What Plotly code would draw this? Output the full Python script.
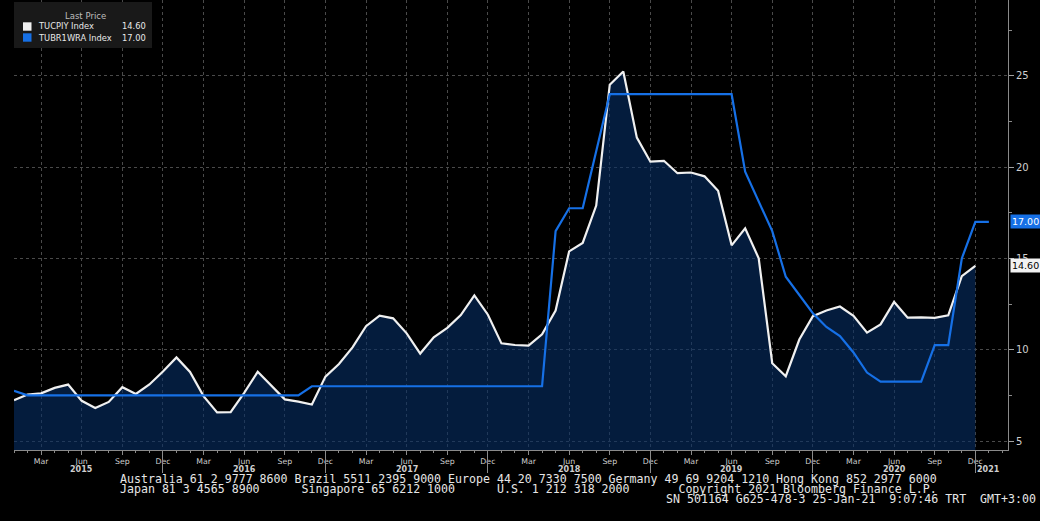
import plotly.graph_objects as go

# ---------------- data ----------------
start_year = 2015
month_names = ["Jan", "Feb", "Mar", "Apr", "May", "Jun",
               "Jul", "Aug", "Sep", "Oct", "Nov", "Dec"]
quarter_months = ["Mar", "Jun", "Sep", "Dec"]
year_labels = ["2015", "2016", "2017", "2018", "2019", "2020", "2021"]
series_names = ["TUCPIY Index", "TUBR1WRA Index"]
legend_title = "Last Price"

# Turkey CPI YoY (Jan 2015 .. Dec 2020)
cpi_yoy = [
    7.24, 7.55, 7.61, 7.91, 8.09, 7.20, 6.81, 7.14, 7.95, 7.58, 8.10, 8.81,
    9.58, 8.78, 7.46, 6.57, 6.58, 7.64, 8.79, 8.05, 7.28, 7.16, 7.00, 8.53,
    9.22, 10.13, 11.29, 11.87, 11.72, 10.90, 9.79, 10.68, 11.20, 11.90, 12.98, 11.92,
    10.35, 10.26, 10.23, 10.85, 12.15, 15.39, 15.85, 17.90, 24.52, 25.24, 21.62, 20.30,
    20.35, 19.67, 19.71, 19.50, 18.71, 15.72, 16.65, 15.01, 9.26, 8.55, 10.56, 11.84,
    12.15, 12.37, 11.86, 10.94, 11.39, 12.62, 11.76, 11.77, 11.75, 11.89, 14.03, 14.60,
]

# Turkey one-week repo rate (Jan 2015 .. Jan 2021)
repo_rate = [
    7.75, 7.5, 7.5, 7.5, 7.5, 7.5, 7.5, 7.5, 7.5, 7.5, 7.5, 7.5,
    7.5, 7.5, 7.5, 7.5, 7.5, 7.5, 7.5, 7.5, 7.5, 7.5, 8.0, 8.0,
    8.0, 8.0, 8.0, 8.0, 8.0, 8.0, 8.0, 8.0, 8.0, 8.0, 8.0, 8.0,
    8.0, 8.0, 8.0, 8.0, 16.5, 17.75, 17.75, 20.9, 24.0, 24.0, 24.0, 24.0,
    24.0, 24.0, 24.0, 24.0, 24.0, 24.0, 19.75, 18.1, 16.5, 14.0, 13.0, 12.0,
    11.25, 10.75, 9.85, 8.75, 8.25, 8.25, 8.25, 8.25, 10.25, 10.25, 15.0, 17.0,
    17.0,
]

y_ticks = [5, 10, 15, 20, 25]

footer_line1 = ("Australia 61 2 9777 8600 Brazil 5511 2395 9000 Europe 44 20 7330 7500 "
                "Germany 49 69 9204 1210 Hong Kong 852 2977 6000")
footer_line2 = ("Japan 81 3 4565 8900      Singapore 65 6212 1000      "
                "U.S. 1 212 318 2000       Copyright 2021 Bloomberg Finance L.P.")
footer_line3 = "SN 501164 G625-478-3 25-Jan-21  9:07:46 TRT  GMT+3:00"

# ---------------- styling ----------------
W, H = 1040, 521
ML, MR, MT, MB = 14, 32, 0, 71
PW, PH = W - ML - MR, H - MT - MB

BG = "#000000"
WHITE_LINE = "#f0f0f0"
BLUE = "#1670e6"
FILL = "rgba(6,46,102,0.6)"
GRID = "#4a4a4a"
AXIS = "#8a8a8a"
TXT = "#cfcfcf"
FONT = "DejaVu Sans"
MONO = "DejaVu Sans Mono"


def px_x(p):
    return (p - ML) / PW


def px_y(p):
    return (H - MB - p) / PH


periods = [f"{month_names[i % 12]} {start_year + i // 12}" for i in range(len(repo_rate))]
x_cpi = list(range(len(cpi_yoy)))
x_repo = list(range(len(repo_rate)))

x_range = [0, PW / 13.54]
y_range = [4.507, 29.16]

tickvals, ticktext = [], []
for i, p in enumerate(periods[:len(cpi_yoy)]):
    m = p.split()[0]
    if m in quarter_months:
        tickvals.append(i)
        ticktext.append(m)
dec_idx = [i for i, p in enumerate(periods) if p.startswith("Dec")]

fig = go.Figure()
fig.add_trace(go.Scatter(
    x=x_cpi, y=cpi_yoy, mode="lines", name=series_names[0],
    line=dict(color=WHITE_LINE, width=2.2),
    fill="tozeroy", fillcolor=FILL, hoverinfo="skip"))
fig.add_trace(go.Scatter(
    x=x_repo, y=repo_rate, mode="lines", name=series_names[1],
    line=dict(color=BLUE, width=2.2), hoverinfo="skip"))
# invisible helper trace to hold the year-divider axis
fig.add_trace(go.Scatter(
    x=x_repo, y=repo_rate, mode="lines", xaxis="x2", opacity=0,
    line=dict(width=0), hoverinfo="skip", showlegend=False))

annotations = []
shapes = []

# legend box
shapes.append(dict(type="rect", xref="paper", yref="paper",
                   x0=px_x(14), x1=px_x(152), y0=px_y(48), y1=px_y(2),
                   fillcolor="#191919", line=dict(width=0), layer="above"))
annotations.append(dict(xref="paper", yref="paper", x=px_x(85), y=px_y(16),
                        text=legend_title, showarrow=False, xanchor="center", yanchor="middle",
                        font=dict(family=FONT, size=8.5, color="#bdbdbd")))
for k, (name, col, val, yc) in enumerate([
        (series_names[0], WHITE_LINE, cpi_yoy[-1], 26.5),
        (series_names[1], BLUE, repo_rate[-1], 37.5)]):
    shapes.append(dict(type="rect", xref="paper", yref="paper",
                       x0=px_x(23), x1=px_x(31.5), y0=px_y(yc + 4.2), y1=px_y(yc - 4.2),
                       fillcolor=col, line=dict(width=0), layer="above"))
    annotations.append(dict(xref="paper", yref="paper", x=px_x(36), y=px_y(yc),
                            text=name, showarrow=False, xanchor="left", yanchor="middle",
                            font=dict(family=FONT, size=8.3, color="#e8e8e8")))
    annotations.append(dict(xref="paper", yref="paper", x=px_x(148), y=px_y(yc),
                            text=f"{val:.2f}", showarrow=False, xanchor="right", yanchor="middle",
                            font=dict(family=FONT, size=8.3, color="#e8e8e8")))

# year labels
for yl in year_labels:
    idxs = [i for i, p in enumerate(periods) if p.endswith(yl)]
    jun = [i for i in idxs if periods[i].startswith("Jun")]
    xpos = jun[0] if jun else idxs[-1]
    annotations.append(dict(xref="x", yref="paper", x=xpos, y=px_y(469.5),
                            text=f"<b>{yl}</b>", showarrow=False, xanchor="center", yanchor="middle",
                            font=dict(family=FONT, size=8, color=TXT)))

# last value tags on the right axis
annotations.append(dict(xref="paper", yref="y", x=1, y=repo_rate[-1], xshift=2,
                        text=f"{repo_rate[-1]:.2f}", showarrow=False, xanchor="left", yanchor="middle",
                        bgcolor=BLUE, borderpad=1,
                        font=dict(family=FONT, size=9.5, color="#ffffff")))
annotations.append(dict(xref="paper", yref="y", x=1, y=cpi_yoy[-1], xshift=2,
                        text=f"{cpi_yoy[-1]:.2f}", showarrow=False, xanchor="left", yanchor="middle",
                        bgcolor="#f2f2f2", borderpad=1,
                        font=dict(family=FONT, size=9.5, color="#000000")))

# footer
nb = lambda s: s.replace(" ", "\u00a0")
for txt, xp, yp in [(footer_line1, 118, 479), (footer_line2, 118, 489), (footer_line3, 664, 498.5)]:
    annotations.append(dict(xref="paper", yref="paper", x=px_x(xp), y=px_y(yp),
                            text=nb(txt), showarrow=False, xanchor="left", yanchor="middle",
                            font=dict(family=MONO, size=11.6, color="#e6e6e6")))

fig.update_layout(
    width=W, height=H,
    margin=dict(l=ML, r=MR, t=MT, b=MB, pad=0),
    paper_bgcolor=BG, plot_bgcolor=BG,
    showlegend=False,
    xaxis=dict(
        range=x_range, tickmode="array", tickvals=tickvals, ticktext=ticktext,
        ticks="outside", ticklen=4, tickcolor=AXIS, tickwidth=1,
        showline=True, linecolor=AXIS, linewidth=1,
        showgrid=True, gridcolor=GRID, griddash="dot", gridwidth=1,
        zeroline=False, tickfont=dict(family=FONT, size=7.8, color=TXT),
        minor=dict(dtick=1, tick0=0, ticks="outside", ticklen=2, tickcolor=AXIS, showgrid=False),
        fixedrange=True,
    ),
    xaxis2=dict(
        range=x_range, overlaying="x", anchor="y", side="bottom",
        tickmode="array", tickvals=dec_idx, ticks="outside", ticklen=22,
        tickcolor=AXIS, tickwidth=1, showticklabels=False,
        showgrid=False, showline=False, zeroline=False,
    ),
    yaxis=dict(
        range=y_range, side="right", tickmode="array", tickvals=y_ticks,
        ticks="outside", ticklen=5, tickcolor="#a0a0a0", tickwidth=1,
        showline=True, linecolor=AXIS, linewidth=1,
        showgrid=True, gridcolor=GRID, griddash="dot", gridwidth=1,
        zeroline=False, tickfont=dict(family=FONT, size=10, color=TXT),
        minor=dict(dtick=2.5, tick0=0, ticks="outside", ticklen=3, tickcolor=AXIS, showgrid=False),
        fixedrange=True,
    ),
    annotations=annotations,
    shapes=shapes,
)

fig.write_html(
    "out.html",
    config={"displayModeBar": False, "staticPlot": True},
    post_script="document.body.style.margin='0px';document.body.style.padding='0px';"
                "document.body.style.overflow='hidden';document.body.style.background='#000';",
)
